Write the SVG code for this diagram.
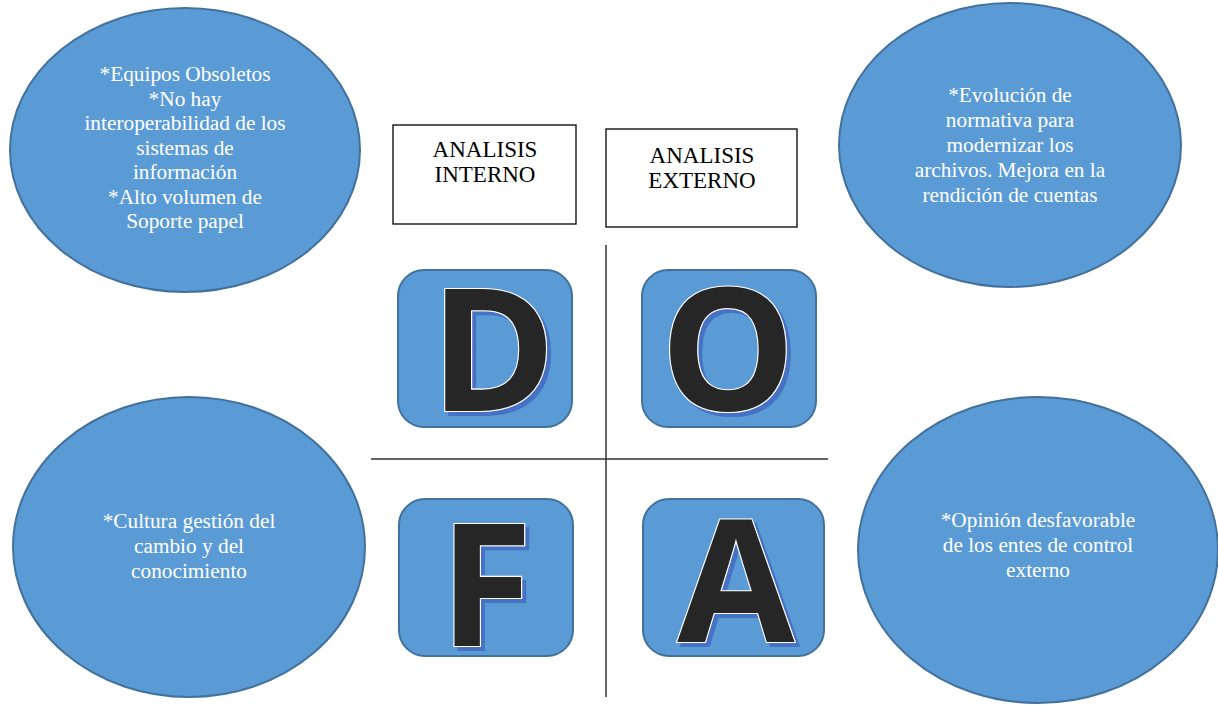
<svg xmlns="http://www.w3.org/2000/svg" width="1218" height="705" viewBox="0 0 1218 705">
<defs>
<filter id="shadow" x="-20%" y="-20%" width="140%" height="140%">
<feFlood flood-color="#4472C4" result="c"/>
<feComposite in="c" in2="SourceAlpha" operator="in" result="s"/>
<feOffset in="s" dx="4" dy="4" result="o"/>
<feMerge><feMergeNode in="o"/><feMergeNode in="SourceGraphic"/></feMerge>
</filter>
</defs>
<style>
.ell{fill:#5B9BD5;stroke:#41719C;stroke-width:2}
.card{fill:#5B9BD5;stroke:#41719C;stroke-width:2}
.txt{font-family:'Liberation Serif','Times New Roman',serif;font-size:21.3px;fill:#ffffff;text-anchor:middle}
.hdr{font-family:'Liberation Serif','Times New Roman',serif;font-size:23px;fill:#000000;text-anchor:middle}
.box{fill:#ffffff;stroke:#000000;stroke-width:1.3}
.big{font-family:'Open Sans','DejaVu Sans',sans-serif;font-weight:bold;font-size:170px;text-anchor:middle;fill:#262626;stroke:#ffffff;stroke-width:2.2;paint-order:stroke;filter:url(#shadow)}
.line{stroke:#333333;stroke-width:1.5;fill:none}
</style>
<rect width="1218" height="705" fill="#ffffff"/>
<g id="connectors">
<line class="line" x1="606" y1="245" x2="606" y2="697"/>
<line class="line" x1="371" y1="459" x2="828" y2="459"/>
</g>
<g id="debilidades-ellipse">
<ellipse class="ell" cx="185" cy="150" rx="175" ry="142"/>
<text class="txt"><tspan x="185" y="81">*Equipos Obsoletos</tspan><tspan x="185" y="105.5">*No hay</tspan><tspan x="185" y="130">interoperabilidad de los</tspan><tspan x="185" y="154.5">sistemas de</tspan><tspan x="185" y="179">información</tspan><tspan x="185" y="203.5">*Alto volumen de</tspan><tspan x="185" y="228">Soporte papel</tspan></text>
</g>
<g id="oportunidades-ellipse">
<ellipse class="ell" cx="1010" cy="145" rx="171" ry="142"/>
<text class="txt"><tspan x="1010" y="102">*Evolución de</tspan><tspan x="1010" y="127">normativa para</tspan><tspan x="1010" y="152">modernizar los</tspan><tspan x="1010" y="177">archivos. Mejora en la</tspan><tspan x="1010" y="202">rendición de cuentas</tspan></text>
</g>
<g id="fortalezas-ellipse">
<ellipse class="ell" cx="189" cy="547" rx="176" ry="150"/>
<text class="txt"><tspan x="189" y="528">*Cultura gestión del</tspan><tspan x="189" y="553">cambio y del</tspan><tspan x="189" y="578">conocimiento</tspan></text>
</g>
<g id="amenazas-ellipse">
<ellipse class="ell" cx="1038" cy="550" rx="180" ry="153"/>
<text class="txt"><tspan x="1038" y="527">*Opinión desfavorable</tspan><tspan x="1038" y="552">de los entes de control</tspan><tspan x="1038" y="577">externo</tspan></text>
</g>
<g id="analisis-interno">
<rect class="box" x="393" y="125" width="183" height="99"/>
<text class="hdr"><tspan x="485" y="157">ANALISIS</tspan><tspan x="485" y="182">INTERNO</tspan></text>
</g>
<g id="analisis-externo">
<rect class="box" x="606" y="129" width="191" height="98"/>
<text class="hdr"><tspan x="702" y="163">ANALISIS</tspan><tspan x="702" y="188">EXTERNO</tspan></text>
</g>
<g id="card-d">
<rect class="card" x="398" y="270" width="174" height="157" rx="26"/>
<text class="big" x="493" y="411">D</text>
</g>
<g id="card-o">
<rect class="card" x="642" y="270" width="174" height="157" rx="26"/>
<text class="big" x="728" y="410">O</text>
</g>
<g id="card-f">
<rect class="card" x="399" y="499" width="174" height="157" rx="26"/>
<text class="big" x="486" y="646">F</text>
</g>
<g id="card-a">
<rect class="card" x="643" y="499" width="181" height="157" rx="26"/>
<text class="big" x="736" y="642">A</text>
</g>
</svg>
